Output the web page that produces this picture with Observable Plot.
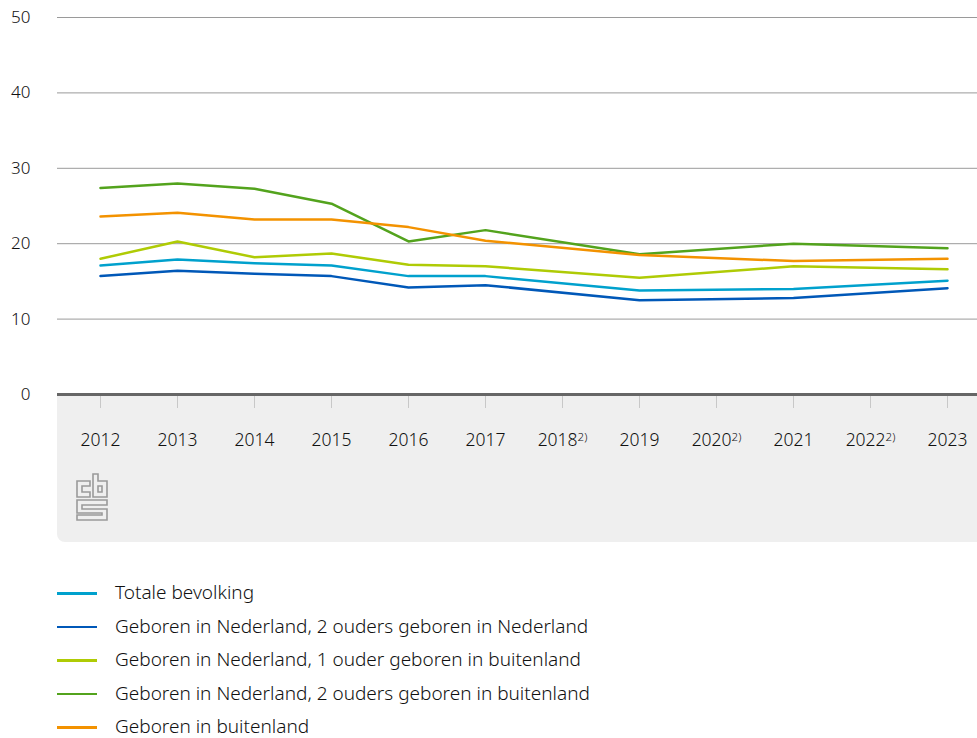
<!DOCTYPE html>
<html>
<head>
<meta charset="utf-8">
<script src="https://cdn.jsdelivr.net/npm/d3@7"></script>
<script src="https://cdn.jsdelivr.net/npm/@observablehq/plot@0.6"></script>
<style>
  html, body { margin: 0; padding: 0; background: #fff; }
  body { width: 977px; height: 738px; position: relative; overflow: hidden; font-family: "Noto Sans", sans-serif; }
  #panel { position: absolute; left: 57px; top: 395px; width: 920px; height: 147px; background: #efefef; border-bottom-left-radius: 8px; }
  #chart { position: absolute; left: 0; top: 0; }
  #logo { position: absolute; left: 76px; top: 473px; }
  #legend { position: absolute; left: 0; top: 576px; }
  .item { position: relative; height: 33.5px; }
  .sw { position: absolute; left: 57px; top: 16px; width: 40px; height: 2.5px; }
  .lab { position: absolute; left: 115px; top: 0; line-height: 33.5px; font-size: 19px; font-weight: 300; color: #111; white-space: nowrap; }
</style>
</head>
<body>
<div id="panel"></div>
<svg id="logo" width="32" height="48" viewBox="0 0 32 48" fill="none" stroke="#9a9a9a" stroke-width="1.6">
  <path d="M1 8 H14 V13 H6 V19 H14 V24 H1 Z"/>
  <path d="M17 1 H22 V8 H31 V24 H17 Z M22 13 V19 H26 V13 Z"/>
  <path d="M1 27 H31 V32 H6 V36 H31 V47 H1 V42 H26 V40 H1 Z"/>
</svg>
<div id="chart"></div>
<div id="legend"></div>
<script>
const years = ["2012","2013","2014","2015","2016","2017","2018","2019","2020","2021","2022","2023"];
const noteYears = ["2018","2020","2022"];
const dataYears = ["2012","2013","2014","2015","2016","2017","2019","2021","2023"];
const seriesNames = [
  "Totale bevolking",
  "Geboren in Nederland, 2 ouders geboren in Nederland",
  "Geboren in Nederland, 1 ouder geboren in buitenland",
  "Geboren in Nederland, 2 ouders geboren in buitenland",
  "Geboren in buitenland"
];
const seriesColors = ["#00a1cd", "#0058b8", "#afcb05", "#53a31d", "#f39200"];
const totale      = [17.1, 17.9, 17.4, 17.1, 15.7, 15.7, 13.8, 14.0, 15.1];
const nlNl        = [15.7, 16.4, 16.0, 15.7, 14.2, 14.5, 12.5, 12.8, 14.1];
const een         = [18.0, 20.3, 18.2, 18.7, 17.2, 17.0, 15.5, 17.0, 16.6];
const tweeBuiten  = [27.4, 28.0, 27.3, 25.3, 20.3, 21.8, 18.6, 20.0, 19.4];
const buitenland  = [23.6, 24.1, 23.2, 23.2, 22.2, 20.4, 18.5, 17.7, 18.0];
const yTicks = [0, 10, 20, 30, 40, 50];
const gridTicks = [10, 20, 30, 40, 50];

const seriesValues = [totale, nlNl, een, tweeBuiten, buitenland];
const rows = [];
seriesNames.forEach((name, i) => {
  dataYears.forEach((yr, j) => rows.push({series: name, year: yr, value: seriesValues[i][j]}));
});

const chart = Plot.plot({
  width: 977,
  height: 545,
  marginLeft: 57,
  marginRight: 0,
  marginTop: 17,
  marginBottom: 151,
  style: {fontFamily: "Noto Sans", fontSize: "16px", fontWeight: 300, background: "transparent", color: "#111", overflow: "visible"},
  x: {type: "point", domain: years, range: [95, 951], padding: 0},
  y: {domain: [0, 50]},
  color: {domain: seriesNames, range: seriesColors},
  marks: [
    Plot.gridY(gridTicks, {stroke: "#9a9a9a", strokeOpacity: 1, strokeWidth: 1}),
    Plot.axisY(yTicks, {tickSize: 0, tickPadding: 27, label: null, fill: "#111", fontSize: 17}),
    Plot.axisX({tickSize: 14, tickPadding: 25, label: null, stroke: "#c8c8c8", fill: "#111", fontSize: 17.5}),
    Plot.ruleY([0], {stroke: "#666", strokeWidth: 3}),
    Plot.line(rows, {x: "year", y: "value", z: "series", stroke: "series", strokeWidth: 2.5, curve: "linear"})
  ]
});
document.getElementById("chart").appendChild(chart);

// superscript notes on tick labels
d3.select(chart).selectAll('g[aria-label="x-axis tick label"] text').each(function() {
  const t = this.textContent.trim();
  if (noteYears.includes(t)) {
    d3.select(this).append("tspan").attr("font-size", "11.5px").attr("dy", "-0.45em").text("2)");
  }
});

const legend = d3.select("#legend");
seriesNames.forEach((name, i) => {
  const it = legend.append("div").attr("class", "item");
  it.append("div").attr("class", "sw").style("background", seriesColors[i]);
  it.append("div").attr("class", "lab").text(name);
});
</script>
</body>
</html>
